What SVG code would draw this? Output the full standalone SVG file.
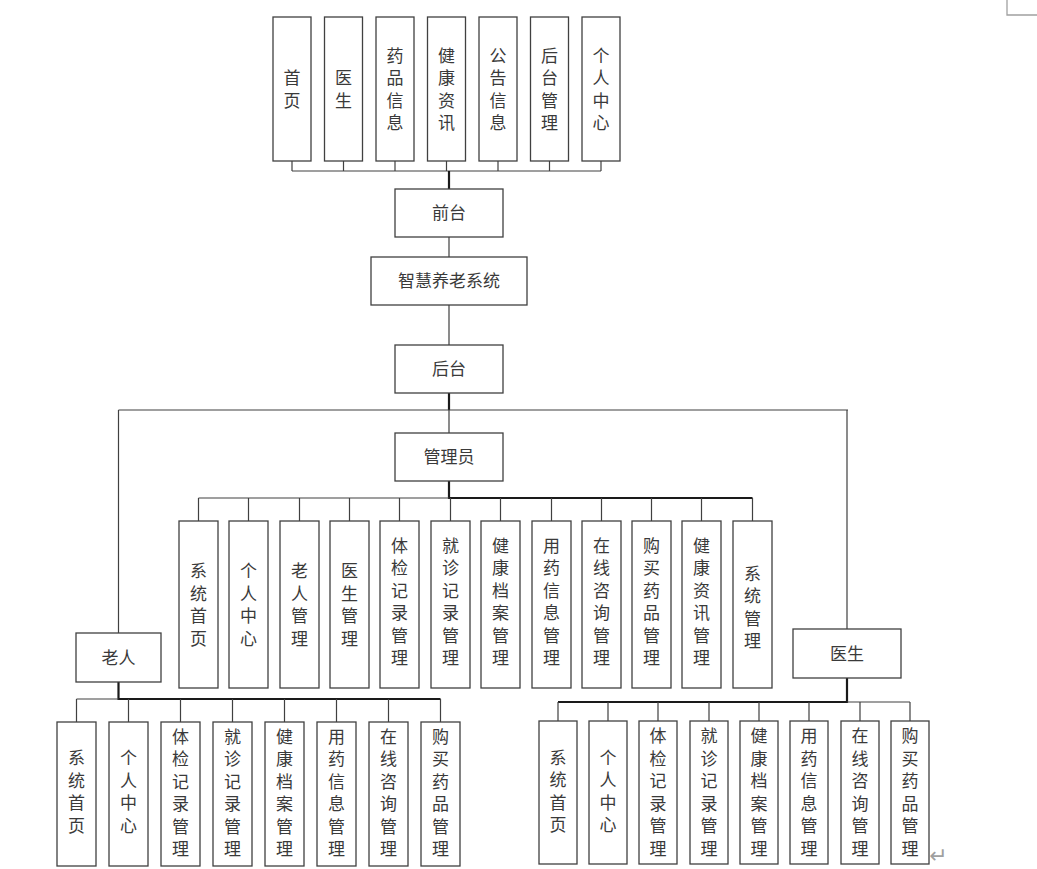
<svg xmlns="http://www.w3.org/2000/svg" width="1037" height="869" viewBox="0 0 1037 869">
<style>
.box{fill:#fff;stroke:#404040;stroke-width:1.3}
.t{font-family:"Noto Sans CJK SC","Noto Sans",sans-serif;font-size:17px;fill:#3a3a3a;text-anchor:middle}
.v{font-family:"Noto Sans CJK SC","Noto Sans",sans-serif;font-size:17px;fill:#3a3a3a;text-anchor:middle;writing-mode:vertical-rl;letter-spacing:5.5px}
.ln{fill:none;stroke:#404040;stroke-width:1.2}
.tk{fill:none;stroke:#1a1a1a;stroke-width:2.2}
</style>
<rect width="1037" height="869" fill="#fff"/>
<path d="M1007 0V15H1037" fill="none" stroke="#a0a0a0" stroke-width="1.3"/>
<g id="connectors">
<path class="ln" d="M292 171H601M292 161V171M343.5 161V171M395 161V171M446.5 161V171M498 161V171M549.5 161V171M601 161V171"/>
<path class="tk" d="M449 171V189"/>
<path class="ln" d="M449 237V257M449 305V345M449 410V433"/>
<path class="tk" d="M449 393V410"/>
<path class="ln" d="M118.5 410H848M118.5 410V633M847 410V629"/>
<path class="tk" d="M449 481V498H752.5"/>
<path class="ln" d="M198.5 498H449M198.5 498V521M248.5 498V521M299.5 498V521M349.5 498V521M399.5 498V521M450.5 498V521M500.5 498V521M551.5 498V521M601.5 498V521M651.5 498V521M701.5 498V521M752.5 498V521"/>
<path class="tk" d="M118.5 682V699H440.5"/>
<path class="ln" d="M76.5 699H118.5M76.5 699V722M128.5 699V722M180.5 699V722M232.5 699V722M284.5 699V722M336.5 699V722M388.5 699V722M440.5 699V722"/>
<path class="tk" d="M847 678V702H558"/>
<path class="ln" d="M847 702H910M558 702V721M608 702V721M658 702V721M709 702V721M759 702V721M809 702V721M860 702V721M910 702V721"/>
</g>
<g id="top-shouye"><rect class="box" x="273" y="17" width="38" height="144"/><text class="v" x="292" y="91.75">首页</text></g>
<g id="top-yisheng"><rect class="box" x="324.5" y="17" width="38" height="144"/><text class="v" x="343.5" y="91.75">医生</text></g>
<g id="top-yaopin"><rect class="box" x="376" y="17" width="38" height="144"/><text class="v" x="395" y="91.75">药品信息</text></g>
<g id="top-jiankang"><rect class="box" x="427.5" y="17" width="38" height="144"/><text class="v" x="446.5" y="91.75">健康资讯</text></g>
<g id="top-gonggao"><rect class="box" x="479" y="17" width="38" height="144"/><text class="v" x="498" y="91.75">公告信息</text></g>
<g id="top-houtai"><rect class="box" x="530.5" y="17" width="38" height="144"/><text class="v" x="549.5" y="91.75">后台管理</text></g>
<g id="top-geren"><rect class="box" x="582" y="17" width="38" height="144"/><text class="v" x="601" y="91.75">个人中心</text></g>
<g id="qiantai"><rect class="box" x="395" y="189" width="108" height="48"/><text class="t" x="449" y="219">前台</text></g>
<g id="system"><rect class="box" x="371" y="257" width="156" height="48"/><text class="t" x="449" y="287">智慧养老系统</text></g>
<g id="houtai"><rect class="box" x="395" y="345" width="108" height="48"/><text class="t" x="449" y="375">后台</text></g>
<g id="admin"><rect class="box" x="395" y="433" width="108" height="48"/><text class="t" x="449" y="463">管理员</text></g>
<g id="a1"><rect class="box" x="179" y="521" width="39" height="167"/><text class="v" x="198.5" y="607.25">系统首页</text></g>
<g id="a2"><rect class="box" x="229" y="521" width="39" height="167"/><text class="v" x="248.5" y="607.25">个人中心</text></g>
<g id="a3"><rect class="box" x="280" y="521" width="39" height="167"/><text class="v" x="299.5" y="607.25">老人管理</text></g>
<g id="a4"><rect class="box" x="330" y="521" width="39" height="167"/><text class="v" x="349.5" y="607.25">医生管理</text></g>
<g id="a5"><rect class="box" x="380" y="521" width="39" height="167"/><text class="v" x="399.5" y="604.25">体检记录管理</text></g>
<g id="a6"><rect class="box" x="431" y="521" width="39" height="167"/><text class="v" x="450.5" y="604.25">就诊记录管理</text></g>
<g id="a7"><rect class="box" x="481" y="521" width="39" height="167"/><text class="v" x="500.5" y="604.25">健康档案管理</text></g>
<g id="a8"><rect class="box" x="532" y="521" width="39" height="167"/><text class="v" x="551.5" y="604.25">用药信息管理</text></g>
<g id="a9"><rect class="box" x="582" y="521" width="39" height="167"/><text class="v" x="601.5" y="604.25">在线咨询管理</text></g>
<g id="a10"><rect class="box" x="632" y="521" width="39" height="167"/><text class="v" x="651.5" y="604.25">购买药品管理</text></g>
<g id="a11"><rect class="box" x="682" y="521" width="39" height="167"/><text class="v" x="701.5" y="604.25">健康资讯管理</text></g>
<g id="a12"><rect class="box" x="733" y="521" width="39" height="167"/><text class="v" x="752.5" y="609.75">系统管理</text></g>
<g id="laoren"><rect class="box" x="76" y="633" width="85" height="49"/><text class="t" x="118.5" y="663.5">老人</text></g>
<g id="yisheng"><rect class="box" x="793" y="629" width="108" height="49"/><text class="t" x="847" y="659.5">医生</text></g>
<g id="l1"><rect class="box" x="57" y="722" width="39" height="144"/><text class="v" x="76.5" y="794.25">系统首页</text></g>
<g id="l2"><rect class="box" x="109" y="722" width="39" height="144"/><text class="v" x="128.5" y="794.25">个人中心</text></g>
<g id="l3"><rect class="box" x="161" y="722" width="39" height="144"/><text class="v" x="180.5" y="795.25">体检记录管理</text></g>
<g id="l4"><rect class="box" x="213" y="722" width="39" height="144"/><text class="v" x="232.5" y="795.25">就诊记录管理</text></g>
<g id="l5"><rect class="box" x="265" y="722" width="39" height="144"/><text class="v" x="284.5" y="795.25">健康档案管理</text></g>
<g id="l6"><rect class="box" x="317" y="722" width="39" height="144"/><text class="v" x="336.5" y="795.25">用药信息管理</text></g>
<g id="l7"><rect class="box" x="369" y="722" width="39" height="144"/><text class="v" x="388.5" y="795.25">在线咨询管理</text></g>
<g id="l8"><rect class="box" x="421" y="722" width="39" height="144"/><text class="v" x="440.5" y="795.25">购买药品管理</text></g>
<g id="d1"><rect class="box" x="539" y="721" width="38" height="143"/><text class="v" x="558" y="793.75">系统首页</text></g>
<g id="d2"><rect class="box" x="589" y="721" width="38" height="143"/><text class="v" x="608" y="793.75">个人中心</text></g>
<g id="d3"><rect class="box" x="639" y="721" width="38" height="143"/><text class="v" x="658" y="794.75">体检记录管理</text></g>
<g id="d4"><rect class="box" x="690" y="721" width="38" height="143"/><text class="v" x="709" y="794.75">就诊记录管理</text></g>
<g id="d5"><rect class="box" x="740" y="721" width="38" height="143"/><text class="v" x="759" y="794.75">健康档案管理</text></g>
<g id="d6"><rect class="box" x="790" y="721" width="38" height="143"/><text class="v" x="809" y="794.75">用药信息管理</text></g>
<g id="d7"><rect class="box" x="841" y="721" width="38" height="143"/><text class="v" x="860" y="794.75">在线咨询管理</text></g>
<g id="d8"><rect class="box" x="891" y="721" width="38" height="143"/><text class="v" x="910" y="794.75">购买药品管理</text></g>
<text x="929" y="863" style="font-family:'DejaVu Sans',sans-serif;font-size:22px;fill:#a0a0a0">↵</text>
</svg>
